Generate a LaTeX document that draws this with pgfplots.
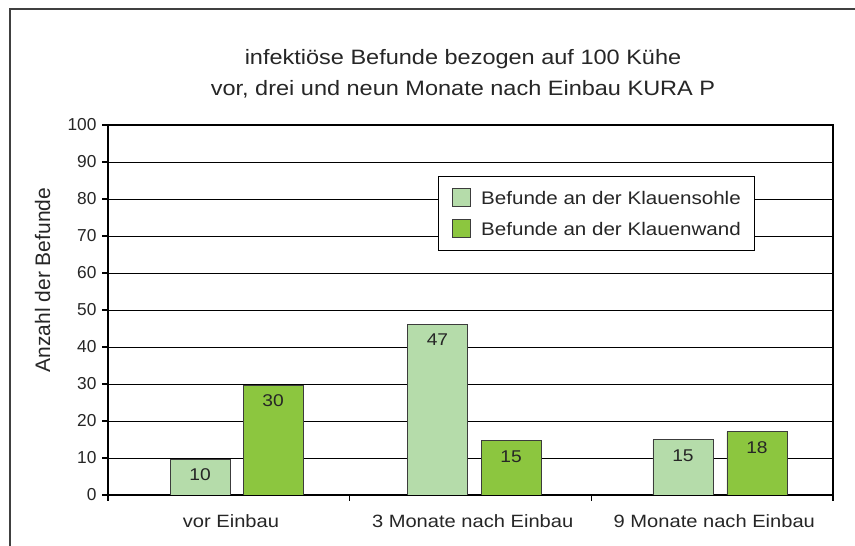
\documentclass[border=0pt]{standalone}
\usepackage{fontspec}
\setmainfont{Liberation Sans}[FakeStretch=1.13]
\newfontfamily\plainsans{Liberation Sans}
\usepackage{pgfplots}
\pgfplotsset{compat=1.18}
\definecolor{lightgreen}{RGB}{181,220,170}
\definecolor{darkgreen}{RGB}{140,198,63}
\definecolor{edgegray}{RGB}{60,60,60}
\begin{document}
\begin{tikzpicture}
\path[use as bounding box] (0,0) rectangle (855pt,546pt);
\fill[white] (0,0) rectangle (855pt,546pt);
\draw[line width=1.6pt, black!75] (10pt,0pt) -- (10pt,537pt) -- (855pt,537pt);
\begin{axis}[
  at={(108pt,51pt)}, anchor=south west,
  scale only axis, width=725pt, height=370pt,
  xmin=-0.5, xmax=2.5, ymin=0, ymax=100,
  ytick={0,10,...,100},
  ymajorgrids, grid style={black, line width=0.8pt},
  axis line style={black, line width=1.1pt},
  xtick={-0.5,0.5,1.5,2.5},
  xticklabels={vor Einbau, 3 Monate nach Einbau, 9 Monate nach Einbau, {}},
  xticklabel style={font=\fontsize{17.8}{21}\selectfont, anchor=base, xshift=123pt, yshift=-26.5pt, text=black!85},
  tick align=outside, major tick length=6pt,
  major x tick style={/pgfplots/major tick length=6pt},
  xtick pos=bottom, ytick pos=left,
  tick style={black, line width=1.1pt},
  /pgf/number format/assume math mode=true,
  yticklabel style={font=\plainsans\fontsize{17.3}{20}\selectfont, text=black!85, xshift=-2pt},
  ylabel={Anzahl der Befunde},
  ylabel style={font=\plainsans\fontsize{21}{24}\selectfont, at={(axis description cs:-0.0903,0.581)}, anchor=center, text=black!85},
  legend style={at={(axis description cs:0.4552,0.8622)}, anchor=north west,
    draw=black, line width=0.8pt, fill=white,
    inner xsep=14pt, inner ysep=12pt, row sep=12.2pt, column sep=10pt,
    nodes={inner sep=0pt, text depth=0pt, font=\fontsize{18.2}{21}\selectfont, text=black!85}},
  legend cell align=left,
  legend image code/.code={\draw[#1] (0pt,-9pt) rectangle (18pt,9pt);},
  point meta=explicit,
  nodes near coords,
  nodes near coords style={font=\fontsize{17}{20}\selectfont, anchor=center, yshift=-16pt, text=black!85},
]
\addplot[ybar, fill=lightgreen, draw=edgegray, line width=0.8pt, bar width=60pt, bar shift=0pt]
  coordinates {(-0.1193,9.7) [10] (0.8634,46.2) [47] (1.8793,14.9) [15]};
\addlegendentry{Befunde an der Klauensohle}
\addplot[ybar, fill=darkgreen, draw=edgegray, line width=0.8pt, bar width=60pt, bar shift=0pt]
  coordinates {(0.1828,29.7) [30] (1.1676,14.7) [15] (2.1855,17.1) [18]};
\addlegendentry{Befunde an der Klauenwand}
\end{axis}
\node[anchor=base, font=\fontsize{20.8}{24}\selectfont, text=black!85] at (463pt,481pt) {infektiöse Befunde bezogen auf 100 Kühe};
\node[anchor=base, font=\fontsize{20.8}{24}\selectfont, text=black!85] at (463pt,450pt) {vor, drei und neun Monate nach Einbau KURA P};
\end{tikzpicture}
\end{document}
